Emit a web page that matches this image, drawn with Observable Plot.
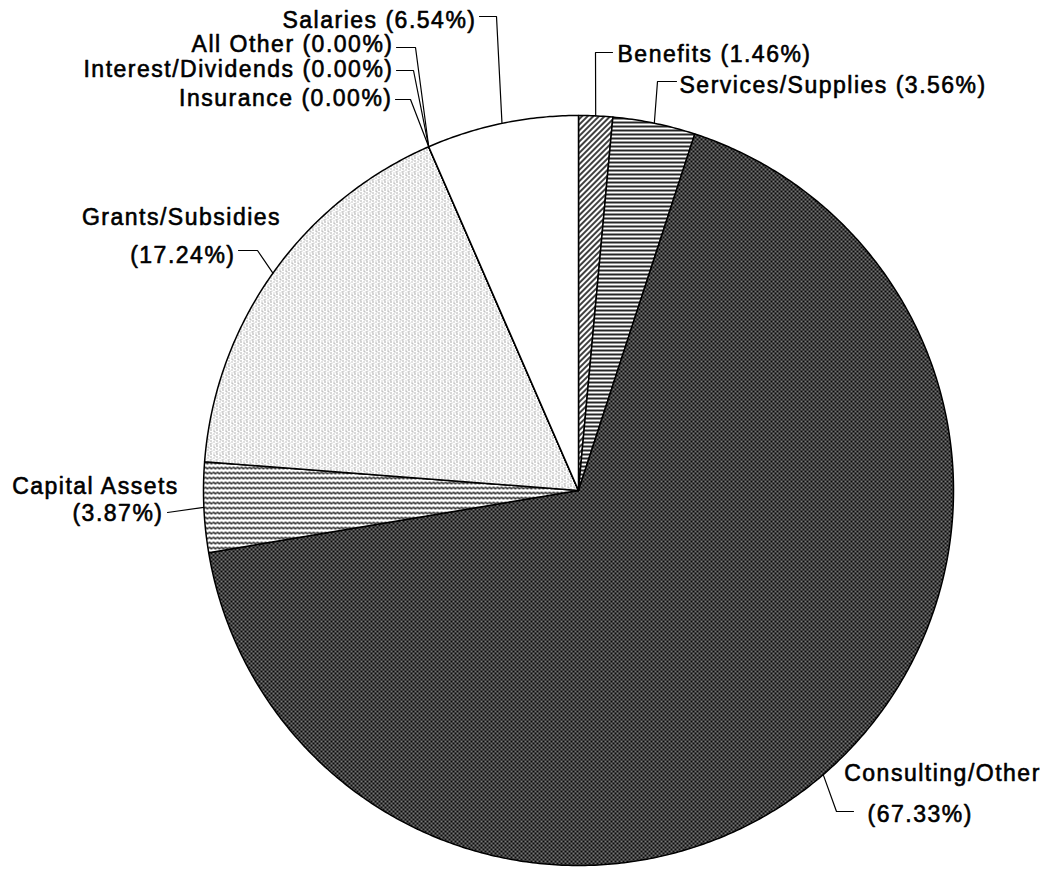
<!DOCTYPE html>
<html><head><meta charset="utf-8">
<script src="https://cdn.jsdelivr.net/npm/d3@7"></script>
<script src="https://cdn.jsdelivr.net/npm/@observablehq/plot@0.6"></script>
<style>body{margin:0;background:#fff}#chart{width:1051px;height:871px}</style>
</head><body><div id="chart"></div>
<script>
// ---- data ----
const categories = ["Benefits","Services/Supplies","Consulting/Other","Capital Assets","Grants/Subsidies","Insurance","Interest/Dividends","All Other","Salaries"];
const percents   = [1.46, 3.56, 67.33, 3.87, 17.24, 0.00, 0.00, 0.00, 6.54];

// ---- styles ----
const fills = {
  "Benefits":"url(#pBen)", "Services/Supplies":"url(#pSvc)", "Consulting/Other":"url(#pCon)",
  "Capital Assets":"url(#pCap)", "Grants/Subsidies":"url(#pGra)", "Insurance":"white",
  "Interest/Dividends":"white", "All Other":"white", "Salaries":"white"
};

// ---- layout (pixels) ----
const W = 1051, H = 871, CX = 578, CY = 490, R = 375;
const FONT = "Liberation Sans, Arial, Helvetica, sans-serif", FS = 23;
// label lines: [category, lineIndex (0 = whole label, 1 = name, 2 = percent), x, y, anchor]
const labelLayout = [
  ["Salaries", 0, 476, 20, "end"],
  ["All Other", 0, 393, 44, "end"],
  ["Interest/Dividends", 0, 393, 69, "end"],
  ["Insurance", 0, 392, 98, "end"],
  ["Benefits", 0, 617, 54, "start"],
  ["Services/Supplies", 0, 679, 85, "start"],
  ["Grants/Subsidies", 1, 181, 217, "middle"],
  ["Grants/Subsidies", 2, 235, 255, "end"],
  ["Capital Assets", 1, 95, 486, "middle"],
  ["Capital Assets", 2, 163, 513, "end"],
  ["Consulting/Other", 1, 942, 773, "middle"],
  ["Consulting/Other", 2, 867, 814, "start"]
];
// leader line elbows (pixels); last point is computed on the pie edge
const leaderLayout = {
  "Salaries": [[479,16],[496,16]],
  "All Other": [[396,47],[415,47]],
  "Interest/Dividends": [[396,70],[413,70]],
  "Insurance": [[395,99],[410,99]],
  "Benefits": [[612,52],[595,52]],
  "Services/Supplies": [[676,81],[657,81]],
  "Grants/Subsidies": [[238,250],[257,250]],
  "Capital Assets": [[167,512]],
  "Consulting/Other": [[853,811],[836,811]]
};

const ux = px => (px - CX) / R, uy = py => (CY - py) / R;

// slices, clockwise from 12 o'clock
let cum = 0;
const total = d3.sum(percents);
const slices = categories.map((name, i) => {
  const a0 = cum / total * 2 * Math.PI; cum += percents[i];
  const a1 = cum / total * 2 * Math.PI;
  return {name, pct: percents[i], a0, a1, mid: (a0 + a1) / 2};
});
const sliceMarks = slices.map(s => {
  const n = Math.max(1, Math.ceil((s.a1 - s.a0) / (Math.PI / 360)));
  const pts = [{x: 0, y: 0}];
  for (let k = 0; k <= n; k++) { const a = s.a0 + (s.a1 - s.a0) * k / n; pts.push({x: Math.sin(a), y: Math.cos(a)}); }
  pts.push({x: 0, y: 0});
  return Plot.line(pts, {x: "x", y: "y", fill: fills[s.name], stroke: "black", strokeWidth: 1.5, strokeLinejoin: "round"});
});

const bySlice = Object.fromEntries(slices.map(s => [s.name, s]));
const leaders = slices.flatMap(s => {
  const el = leaderLayout[s.name] || [];
  return [...el.map(([px, py]) => ({name: s.name, x: ux(px), y: uy(py)})), {name: s.name, x: Math.sin(s.mid), y: Math.cos(s.mid)}];
});

const labels = labelLayout.map(([name, li, px, py, anchor]) => {
  const s = bySlice[name];
  const pctTxt = `(${s.pct.toFixed(2)}%)`;
  const text = li === 0 ? `${name} ${pctTxt}` : li === 1 ? name : pctTxt;
  return {text, x: ux(px), y: uy(py), anchor};
});
const textMarks = ["start", "middle", "end"].map(a => Plot.text(labels.filter(d => d.anchor === a), {
  x: "x", y: "y", text: "text", textAnchor: a, fontFamily: FONT, fontSize: FS, fill: "black",
  stroke: "black", strokeWidth: 0.6
}));

const svg = Plot.plot({
  width: W, height: H, margin: 0,
  x: {domain: [-1, 1], range: [CX - R, CX + R], axis: null},
  y: {domain: [-1, 1], range: [CY + R, CY - R], axis: null},
  style: {background: "white", fontFamily: FONT, letterSpacing: "1.5px", overflow: "visible"},
  marks: [
    ...sliceMarks,
    Plot.line(leaders, {x: "x", y: "y", z: "name", stroke: "black", strokeWidth: 1.2, fill: "none"}),
    ...textMarks
  ]
});

d3.select(svg).insert("defs", ":first-child").html(`
  <pattern id="pBen" width="4" height="4" patternUnits="userSpaceOnUse" patternTransform="rotate(45)">
    <rect width="4" height="4" fill="white"/><line x1="1" y1="0" x2="1" y2="4" stroke="black" stroke-width="1.5"/>
  </pattern>
  <pattern id="pSvc" width="4" height="4" patternUnits="userSpaceOnUse">
    <rect width="4" height="4" fill="white"/><line x1="0" y1="2" x2="4" y2="2" stroke="black" stroke-width="1.7"/>
  </pattern>
  <pattern id="pCon" width="4" height="4" patternUnits="userSpaceOnUse">
    <rect width="4" height="4" fill="#0a0a0a"/><rect x="0.3" y="0.3" width="1.4" height="1.4" fill="#eeeeee"/><rect x="2.3" y="2.3" width="1.4" height="1.4" fill="#dddddd"/>
  </pattern>
  <pattern id="pCap" width="4" height="5" patternUnits="userSpaceOnUse">
    <rect width="4" height="5" fill="white"/><path d="M0,2.5 Q1,1.2 2,2.5 T4,2.5" fill="none" stroke="black" stroke-width="1.3"/>
  </pattern>
  <pattern id="pGra" width="6" height="8" patternUnits="userSpaceOnUse">
    <rect width="6" height="8" fill="white"/>
    <rect x="0" y="0" width="1" height="1" fill="#666"/><rect x="0" y="3" width="1" height="1" fill="#999"/>
    <rect x="0" y="5" width="1" height="1" fill="#555"/><rect x="3" y="1" width="1" height="1" fill="#888"/>
    <rect x="3" y="4" width="1" height="1" fill="#aaa"/><rect x="3" y="6" width="1" height="1" fill="#777"/>
    <rect x="4" y="7" width="1" height="1" fill="#999"/><rect x="1" y="2" width="1" height="1" fill="#bbb"/>
    <rect x="5" y="3" width="1" height="1" fill="#aaa"/>
  </pattern>`);

document.getElementById("chart").appendChild(svg);
</script>
</body></html>
